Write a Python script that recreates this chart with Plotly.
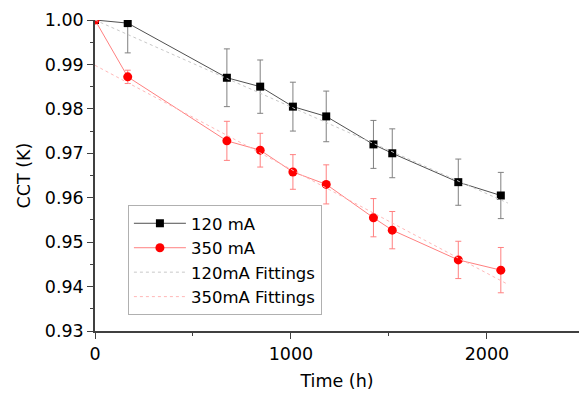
import plotly.graph_objects as go

time_120 = [0, 167, 673, 843, 1010, 1180, 1421, 1517, 1854, 2071]
cct_120 = [1.000, 0.9993, 0.9870, 0.9850, 0.9805, 0.9783, 0.9720, 0.9700, 0.9635, 0.9605]
err_120 = [0.0, 0.0067, 0.0065, 0.0060, 0.0055, 0.0057, 0.0054, 0.0055, 0.0052, 0.0052]

time_350 = [0, 167, 673, 843, 1010, 1180, 1421, 1517, 1854, 2071]
cct_350 = [1.000, 0.9872, 0.9728, 0.9707, 0.9658, 0.9630, 0.9555, 0.9527, 0.9460, 0.9437]
err_350 = [0.0, 0.0015, 0.0044, 0.0038, 0.0039, 0.0044, 0.0043, 0.0042, 0.0042, 0.0051]

fit_time = [0, 2107]
fit_120 = [1.0000, 0.9588]
fit_350 = [0.9898, 0.9405]

x_ticks = [0, 1000, 2000]
x_minor = [500, 1500]
y_ticks = [0.93, 0.94, 0.95, 0.96, 0.97, 0.98, 0.99, 1.00]
y_labels = ["0.93", "0.94", "0.95", "0.96", "0.97", "0.98", "0.99", "1.00"]
y_minor = [0.935, 0.945, 0.955, 0.965, 0.975, 0.985, 0.995]

font = "DejaVu Sans, sans-serif"
fs = 17.5

fig = go.Figure()
fig.add_trace(go.Scatter(
    x=time_120, y=cct_120, name="120 mA", mode="lines+markers",
    line=dict(color="#505050", width=1),
    marker=dict(symbol="square", size=8, color="black"),
    error_y=dict(type="data", array=err_120, color="#808080", thickness=1, width=3),
))
fig.add_trace(go.Scatter(
    x=time_350, y=cct_350, name="350 mA", mode="lines+markers",
    line=dict(color="#ff8080", width=1),
    marker=dict(symbol="circle", size=9, color="#ff0000"),
    error_y=dict(type="data", array=err_350, color="#ff8080", thickness=1, width=3),
))
fig.add_trace(go.Scatter(
    x=fit_time, y=fit_120, name="120mA Fittings", mode="lines",
    line=dict(color="#c8c8c8", width=1, dash="dot"),
))
fig.add_trace(go.Scatter(
    x=fit_time, y=fit_350, name="350mA Fittings", mode="lines",
    line=dict(color="#ffb8b8", width=1, dash="dot"),
))

fig.update_layout(
    width=579, height=396,
    margin=dict(l=95, r=0, t=20, b=65),
    plot_bgcolor="white", paper_bgcolor="white",
    font=dict(family=font, size=fs, color="black"),
    showlegend=True,
    legend=dict(
        x=0.068, y=0.405, xanchor="left", yanchor="top",
        bordercolor="#b0b0b0", borderwidth=1, bgcolor="white",
        font=dict(size=16.5), itemwidth=52, tracegroupgap=0,
    ),
    xaxis=dict(
        range=[0, 2470], showgrid=False, zeroline=False,
        showline=True, linecolor="#404040", linewidth=1.5,
        ticks="outside", tickcolor="#404040", ticklen=6,
        tickvals=x_ticks, ticktext=[str(v) for v in x_ticks],
        minor=dict(ticks="outside", tickvals=x_minor, ticklen=3, tickcolor="#404040"),
        title=dict(text="Time (h)", standoff=12, font=dict(size=fs)),
        tickfont=dict(size=fs),
    ),
    yaxis=dict(
        range=[0.93, 1.0], showgrid=False, zeroline=False,
        showline=True, linecolor="#404040", linewidth=1.5,
        ticks="outside", tickcolor="#404040", ticklen=6,
        tickvals=y_ticks, ticktext=y_labels,
        minor=dict(ticks="outside", tickvals=y_minor, ticklen=3, tickcolor="#404040"),
        title=dict(text="CCT (K)", standoff=10, font=dict(size=fs)),
        tickfont=dict(size=fs),
    ),
)

fig.write_html(
    "out.html",
    config={"displayModeBar": False},
    post_script="document.body.style.margin='0';document.body.style.overflow='hidden';",
)
